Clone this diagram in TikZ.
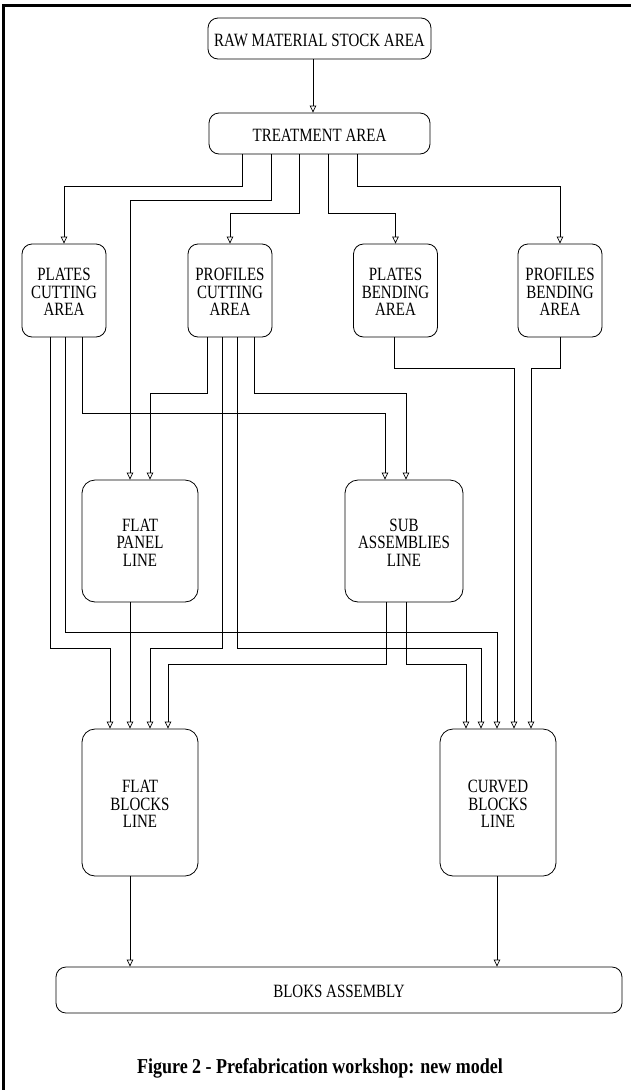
\documentclass[tikz,border=0pt]{standalone}
\usepackage{graphicx}
\usepackage{fontspec}
\setmainfont{Liberation Serif}
\usetikzlibrary{arrows.meta}
\newcommand{\txt}[1]{\raisebox{-4pt}[\height][\depth]{\scalebox{1}[1.25]{\begin{tabular}{@{}c@{}}#1\end{tabular}}}}
\begin{document}
\begin{tikzpicture}[x=1pt,y=-1pt,
  box/.style={draw, line width=0.8pt, rounded corners=10pt, align=center, inner sep=0pt,
    font=\fontsize{15}{13.6}\selectfont},
  arr/.style={draw, line width=0.7pt, -{Triangle[open,length=7pt,width=6.5pt]}},
  ln/.style={draw, line width=0.7pt}]
\useasboundingbox (0,0) rectangle (631,1090);
\draw[line width=3pt] (3.5,1092) -- (3.5,5) -- (633,5);
% nodes
\node[box, minimum width=223pt, minimum height=41pt] (raw) at (319.5,38.5) {\txt{RAW MATERIAL STOCK AREA}};
\node[box, minimum width=221pt, minimum height=41pt] (treat) at (319.5,133.5) {\txt{TREATMENT AREA}};
\node[box, minimum width=84pt, minimum height=93pt] (pc) at (64,290.5) {\txt{PLATES\\CUTTING\\AREA}};
\node[box, minimum width=84pt, minimum height=93pt] (prc) at (230,290.5) {\txt{PROFILES\\CUTTING\\AREA}};
\node[box, minimum width=84pt, minimum height=93pt] (pb) at (395.5,290.5) {\txt{PLATES\\BENDING\\AREA}};
\node[box, minimum width=84pt, minimum height=93pt] (prb) at (560,290.5) {\txt{PROFILES\\BENDING\\AREA}};
\node[box, minimum width=116pt, minimum height=122pt, rounded corners=13pt] (fp) at (140,541) {\txt{FLAT\\PANEL\\LINE}};
\node[box, minimum width=118pt, minimum height=122pt, rounded corners=13pt] (sa) at (404,541) {\txt{SUB\\ASSEMBLIES\\LINE}};
\node[box, minimum width=116pt, minimum height=147pt, rounded corners=13pt] (fb) at (140,802.5) {\txt{FLAT\\BLOCKS\\LINE}};
\node[box, minimum width=116pt, minimum height=147pt, rounded corners=13pt] (cb) at (498,802.5) {\txt{CURVED\\BLOCKS\\LINE}};
\node[box, minimum width=566pt, minimum height=46pt] (ba) at (339,990) {\txt{BLOKS ASSEMBLY}};
\node[font=\fontsize{18}{20}\selectfont\bfseries] (cap) at (320,1068) {\scalebox{1}[1.18]{Figure 2 - Prefabrication workshop: new model}};
% connectors
\draw[arr] ([xshift=-6.5pt]raw.south) -- ([xshift=-6.5pt]raw.south |- treat.north);
\draw[arr] ([xshift=-77.5pt]treat.south) -- ++(0,32) -| (pc.north);
\draw[arr] ([xshift=-48.5pt]treat.south) -- ++(0,46) -| ([xshift=-10pt]fp.north);
\draw[arr] ([xshift=-20.5pt]treat.south) -- ++(0,59) -| (prc.north);
\draw[arr] ([xshift=8.5pt]treat.south) -- ++(0,59) -| (pb.north);
\draw[arr] ([xshift=37.5pt]treat.south) -- ++(0,32) -| (prb.north);
% from plates cutting
\draw[arr] ([xshift=-14pt]pc.south) -- ++(0,311) -| ([xshift=-30pt]fb.north);
\draw[arr] ([xshift=1pt]pc.south) -- ++(0,295) -| ([xshift=-1pt]cb.north);
\draw[arr] ([xshift=18pt]pc.south) -- ++(0,76) -| ([xshift=-19pt]sa.north);
% from profiles cutting
\draw[arr] ([xshift=-23pt]prc.south) -- ++(0,56) -| ([xshift=10pt]fp.north);
\draw[arr] ([xshift=-8pt]prc.south) -- ++(0,311) -| ([xshift=10pt]fb.north);
\draw[arr] ([xshift=7pt]prc.south) -- ++(0,311) -| ([xshift=-17pt]cb.north);
\draw[arr] ([xshift=24pt]prc.south) -- ++(0,56) -| ([xshift=2pt]sa.north);
% bending areas
\draw[arr] ([xshift=-1.5pt]pb.south) -- ++(0,31) -| ([xshift=16pt]cb.north);
\draw[arr] (prb.south) -- ++(0,31) -| ([xshift=33pt]cb.north);
% flat panel and sub assemblies
\draw[arr] ([xshift=-10pt]fp.south) -- ([xshift=-10pt]fb.north);
\draw[arr] ([xshift=-18pt]sa.south) -- ++(0,62) -| ([xshift=28pt]fb.north);
\draw[arr] ([xshift=2pt]sa.south) -- ++(0,62) -| ([xshift=-32pt]cb.north);
% to bloks assembly
\draw[arr] ([xshift=-10pt]fb.south) -- ([xshift=-10pt]fb.south |- ba.north);
\draw[arr] ([xshift=-1pt]cb.south) -- ([xshift=-1pt]cb.south |- ba.north);
\end{tikzpicture}
\end{document}
